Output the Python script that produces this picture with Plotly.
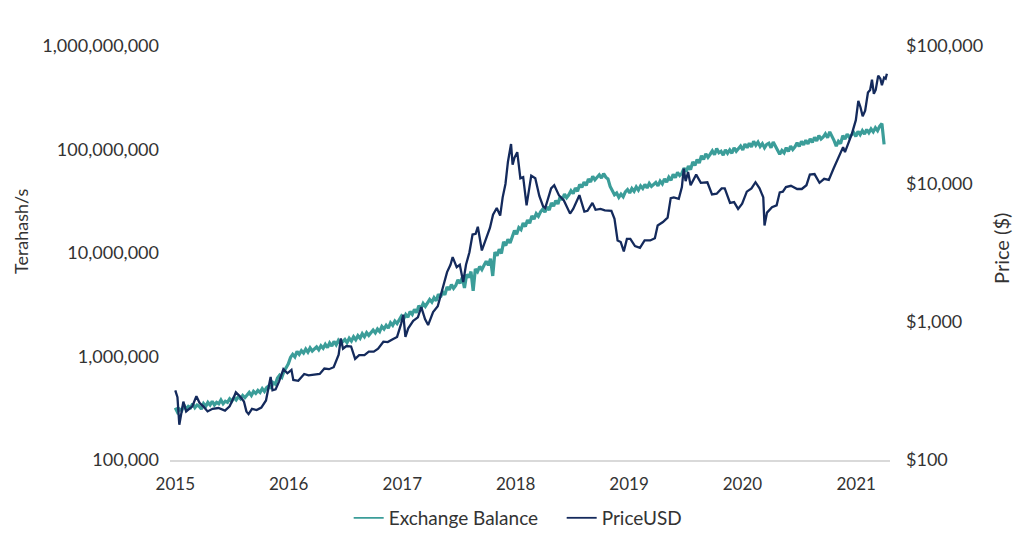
import pandas as pd
import plotly.graph_objects as go

# Exchange Balance series (hashrate), millions of TH/s, weekly from 2015-01-01
hash_mths = [
    # 2015
    0.32, 0.29, 0.31, 0.30, 0.34, 0.31, 0.33, 0.32, 0.35, 0.32, 0.34, 0.33, 0.31,
    0.35, 0.33, 0.36, 0.34, 0.37, 0.34, 0.36, 0.35, 0.38, 0.35, 0.37, 0.36, 0.39,
    0.37, 0.40, 0.38, 0.41, 0.39, 0.42, 0.40, 0.43, 0.45, 0.42, 0.46, 0.44, 0.47,
    0.45, 0.49, 0.46, 0.50, 0.52, 0.49, 0.56, 0.54, 0.62, 0.66, 0.63, 0.72, 0.78,
    # 2016
    0.85, 0.98, 1.05, 0.99, 1.12, 1.05, 1.14, 1.08, 1.18, 1.10, 1.21, 1.13, 1.19,
    1.24, 1.16, 1.27, 1.20, 1.31, 1.22, 1.35, 1.26, 1.40, 1.30, 1.43, 1.33, 1.38,
    1.46, 1.36, 1.50, 1.41, 1.55, 1.45, 1.59, 1.50, 1.66, 1.55, 1.70, 1.60, 1.68,
    1.80, 1.69, 1.84, 1.74, 1.95, 1.84, 2.00, 1.88, 2.12, 2.00, 2.20, 2.08, 2.30,
    # 2017
    2.45, 2.30, 2.55, 2.40, 2.72, 2.55, 2.85, 2.65, 3.10, 2.90, 3.25, 3.05, 3.30,
    3.55, 3.35, 3.70, 3.45, 4.00, 3.75, 4.20, 3.95, 4.70, 4.40, 4.95, 4.55, 4.85,
    5.50, 5.10, 5.80, 4.60, 6.20, 5.80, 6.60, 4.30, 7.00, 6.60, 7.40, 6.90, 7.60,
    8.30, 7.60, 8.80, 6.00, 10.2, 9.40, 10.9, 9.90, 12.8, 11.8, 13.6, 12.5, 14.5,
    # 2018
    16.5, 15.2, 17.6, 16.8, 19.5, 18.0, 20.8, 19.4, 22.8, 21.2, 24.0, 22.6, 25.0,
    26.5, 24.8, 27.8, 26.0, 30.5, 28.4, 32.0, 29.8, 35.0, 32.6, 37.0, 34.2, 36.5,
    40.0, 37.5, 42.5, 39.5, 46.0, 43.0, 48.5, 45.0, 52.0, 48.5, 55.0, 51.0, 54.0,
    57.0, 53.0, 58.5, 54.0, 52.0, 44.0, 40.0, 36.5, 38.0, 34.5, 37.0, 35.0, 39.0,
    # 2019
    41.0, 38.0, 42.0, 39.5, 43.5, 40.5, 44.5, 42.0, 46.0, 42.5, 47.0, 44.0, 46.5,
    48.0, 44.5, 49.5, 46.5, 52.0, 48.5, 54.0, 50.5, 57.5, 53.5, 60.0, 56.0, 59.0,
    66.0, 61.0, 69.0, 64.0, 76.0, 70.0, 80.0, 74.0, 87.0, 80.0, 91.0, 84.0, 90.0,
    97.0, 89.0, 102.0, 93.0, 96.0, 88.0, 99.0, 92.0, 99.0, 92.0, 104.0, 96.0, 101.0,
    # 2020
    108, 99, 113, 104, 115, 106, 120, 110, 118, 107, 114, 104, 112,
    115, 104, 118, 108, 102, 90, 98, 93, 104, 96, 108, 100, 106,
    116, 107, 120, 111, 123, 113, 127, 117, 131, 121, 136, 126, 132,
    142, 130, 148, 135, 122, 108, 120, 114, 136, 126, 141, 131, 138,
    # 2021
    146, 134, 150, 139, 152, 141, 156, 145, 158, 148, 162, 152, 168, 178, 112,
]
hash_dates = list(pd.date_range("2015-01-01", periods=len(hash_mths), freq="7D").strftime("%Y-%m-%d"))

price_dates = [
    # 2015
    "2015-01-01", "2015-01-08", "2015-01-14", "2015-01-20", "2015-01-27", "2015-02-05", "2015-02-15", "2015-02-25",
    "2015-03-10", "2015-03-20", "2015-04-01", "2015-04-15", "2015-05-01", "2015-05-20", "2015-06-10", "2015-06-25",
    "2015-07-10", "2015-07-15", "2015-07-28", "2015-08-10", "2015-08-18", "2015-08-25", "2015-09-05", "2015-09-20",
    "2015-10-05", "2015-10-20", "2015-11-04", "2015-11-10", "2015-11-20", "2015-12-01", "2015-12-15", "2015-12-28",
    # 2016
    "2016-01-10", "2016-01-16", "2016-02-01", "2016-02-20", "2016-03-05", "2016-03-20", "2016-04-10", "2016-04-25",
    "2016-05-10", "2016-05-25", "2016-06-10", "2016-06-17", "2016-06-24", "2016-07-05", "2016-07-20", "2016-08-02",
    "2016-08-15", "2016-09-01", "2016-09-15", "2016-10-01", "2016-10-15", "2016-11-01", "2016-11-15", "2016-12-01",
    "2016-12-15", "2016-12-28",
    # 2017
    "2017-01-04", "2017-01-11", "2017-01-20", "2017-02-05", "2017-02-20", "2017-03-03", "2017-03-15", "2017-03-25",
    "2017-04-10", "2017-04-25", "2017-05-10", "2017-05-25", "2017-06-05", "2017-06-12", "2017-06-25", "2017-07-05",
    "2017-07-16", "2017-07-25", "2017-08-05", "2017-08-15", "2017-08-25", "2017-09-01", "2017-09-14", "2017-09-25",
    "2017-10-10", "2017-10-20", "2017-11-01", "2017-11-12", "2017-11-20", "2017-11-29", "2017-12-07", "2017-12-17",
    "2017-12-22", "2017-12-28",
    # 2018
    "2018-01-06", "2018-01-16", "2018-01-25", "2018-02-05", "2018-02-20", "2018-03-05", "2018-03-18", "2018-03-30",
    "2018-04-06", "2018-04-25", "2018-05-05", "2018-05-20", "2018-06-05", "2018-06-25", "2018-07-05", "2018-07-25",
    "2018-08-10", "2018-08-20", "2018-09-05", "2018-09-15", "2018-10-01", "2018-10-15", "2018-11-05", "2018-11-15",
    "2018-11-20", "2018-11-25", "2018-12-05", "2018-12-15", "2018-12-25",
    # 2019
    "2019-01-05", "2019-01-20", "2019-02-05", "2019-02-20", "2019-03-10", "2019-03-25", "2019-04-03", "2019-04-20",
    "2019-05-05", "2019-05-15", "2019-05-25", "2019-06-10", "2019-06-20", "2019-06-26", "2019-07-02", "2019-07-10",
    "2019-07-18", "2019-08-05", "2019-08-20", "2019-09-10", "2019-09-25", "2019-10-10", "2019-10-26", "2019-11-05",
    "2019-11-22", "2019-12-05", "2019-12-18", "2019-12-31",
    # 2020
    "2020-01-15", "2020-01-30", "2020-02-12", "2020-02-25", "2020-03-08", "2020-03-12", "2020-03-20", "2020-04-05",
    "2020-04-20", "2020-04-30", "2020-05-10", "2020-05-20", "2020-06-05", "2020-06-25", "2020-07-10", "2020-07-25",
    "2020-08-05", "2020-08-20", "2020-09-05", "2020-09-20", "2020-10-05", "2020-10-20", "2020-11-05", "2020-11-20",
    "2020-11-26", "2020-12-05", "2020-12-18", "2020-12-31",
    # 2021
    "2021-01-08", "2021-01-15", "2021-01-22", "2021-01-30", "2021-02-08", "2021-02-15", "2021-02-21", "2021-02-27",
    "2021-03-05", "2021-03-13", "2021-03-20", "2021-03-25", "2021-04-01", "2021-04-06", "2021-04-10",
]
price_usd = [
    # 2015
    320, 285, 180, 215, 265, 225, 235, 245,
    290, 260, 245, 225, 235, 238, 228, 245,
    290, 310, 290, 265, 225, 215, 235, 230,
    240, 270, 400, 320, 325, 370, 455, 425,
    # 2016
    450, 380, 375, 420, 410, 415, 420, 460,
    455, 470, 580, 760, 640, 670, 665, 540,
    575, 575, 610, 610, 640, 720, 715, 750,
    780, 970,
    # 2017
    1130, 780, 900, 1020, 1080, 1280, 1050, 950,
    1180, 1300, 1750, 2300, 2600, 2950, 2500, 2600,
    1950, 2600, 3200, 4300, 4350, 4900, 3300, 3900,
    4800, 6000, 6700, 5900, 8000, 10000, 14500, 19500,
    13800, 15500,
    # 2018
    17000, 11000, 11200, 7000, 11500, 11000, 8200, 6900,
    6700, 9300, 9800, 8300, 7600, 6100, 6600, 8300,
    6300, 6400, 7300, 6500, 6600, 6450, 6400, 5600,
    4600, 3900, 3800, 3250, 4000,
    # 2019
    4000, 3550, 3450, 3900, 3900, 4050, 5000, 5300,
    5700, 7900, 8000, 7800, 9500, 12900, 10500, 12200,
    9800, 11700, 10200, 10300, 8400, 8500, 9300, 9300,
    7300, 7400, 6600, 7200,
    # 2020
    8800, 9300, 10300, 9300, 8000, 5000, 6200, 6800,
    7000, 8700, 8800, 9500, 9700, 9200, 9200, 9800,
    11700, 11800, 10200, 10900, 10700, 12900, 15500, 18500,
    17000, 19200, 23000, 29000,
    # 2021
    40000, 36000, 31000, 34000, 46000, 48000, 57000, 45000,
    48000, 61000, 58000, 52000, 59000, 58000, 63000,
]
assert len(price_dates) == len(price_usd)

left_ticks = [1e5, 1e6, 1e7, 1e8, 1e9]
left_labels = ["100,000", "1,000,000", "10,000,000", "100,000,000", "1,000,000,000"]
right_ticks = [1e2, 1e3, 1e4, 1e5]
right_labels = ["$100", "$1,000", "$10,000", "$100,000"]
x_ticks = ["2015-01-01", "2016-01-01", "2017-01-01", "2018-01-01", "2019-01-01", "2020-01-01", "2021-01-01"]
x_labels = ["2015", "2016", "2017", "2018", "2019", "2020", "2021"]
series_names = ["Exchange Balance", "PriceUSD"]

TEAL = "#3b9d99"
NAVY = "#142a5c"
TXT = "#333333"
FONT = "Lato, Open Sans, sans-serif"

fig = go.Figure()
fig.add_trace(go.Scatter(
    x=hash_dates, y=[v * 1e6 for v in hash_mths], name=series_names[0], showlegend=False,
    mode="lines", line=dict(color=TEAL, width=3.2), yaxis="y",
))
fig.add_trace(go.Scatter(
    x=price_dates, y=price_usd, name=series_names[1], showlegend=False,
    mode="lines", line=dict(color=NAVY, width=2.3), yaxis="y2",
))
# legend entries drawn with thin line samples, as in the original
for nm, col in zip(series_names, [TEAL, NAVY]):
    fig.add_trace(go.Scatter(
        x=[None], y=[None], name=nm, mode="lines",
        line=dict(color=col, width=1.8), showlegend=True,
    ))

fig.update_layout(
    width=1024, height=548,
    margin=dict(l=162, r=142, t=38, b=96, autoexpand=False),
    paper_bgcolor="white", plot_bgcolor="white",
    font=dict(family=FONT, size=18, color=TXT),
    showlegend=True,
    legend=dict(orientation="h", x=0.544, xanchor="center", y=-0.14, yanchor="middle",
                font=dict(size=19, color=TXT), itemwidth=30, entrywidth=168),
    xaxis=dict(
        type="date", range=["2014-12-15", "2021-04-20"],
        tickvals=x_ticks, ticktext=x_labels,
        showgrid=False, zeroline=False,
        showline=True, linecolor="#d9d9d9", linewidth=1.5,
        ticks="", ticklabelstandoff=8, automargin=False,
        tickfont=dict(size=17, color=TXT),
    ),
    yaxis=dict(
        type="log", range=[5, 9],
        tickvals=left_ticks, ticktext=left_labels,
        showgrid=False, zeroline=False, showline=False, ticks="",
        ticklabelstandoff=10, automargin=False,
        tickfont=dict(size=18, color=TXT),
    ),
    yaxis2=dict(
        type="log", range=[2, 5], overlaying="y", side="right",
        tickvals=right_ticks, ticktext=right_labels,
        showgrid=False, zeroline=False, showline=False, ticks="",
        ticklabelstandoff=15, automargin=False,
        tickfont=dict(size=18, color=TXT),
    ),
    annotations=[
        dict(text="Terahash/s", xref="paper", yref="paper", x=-0.207, y=0.553,
             textangle=-90, showarrow=False, font=dict(size=18, color=TXT),
             xanchor="center", yanchor="middle"),
        dict(text="Price ($)", xref="paper", yref="paper", x=1.154, y=0.512,
             textangle=-90, showarrow=False, font=dict(size=20, color=TXT),
             xanchor="center", yanchor="middle"),
    ],
)

fig.write_html("out.html")
